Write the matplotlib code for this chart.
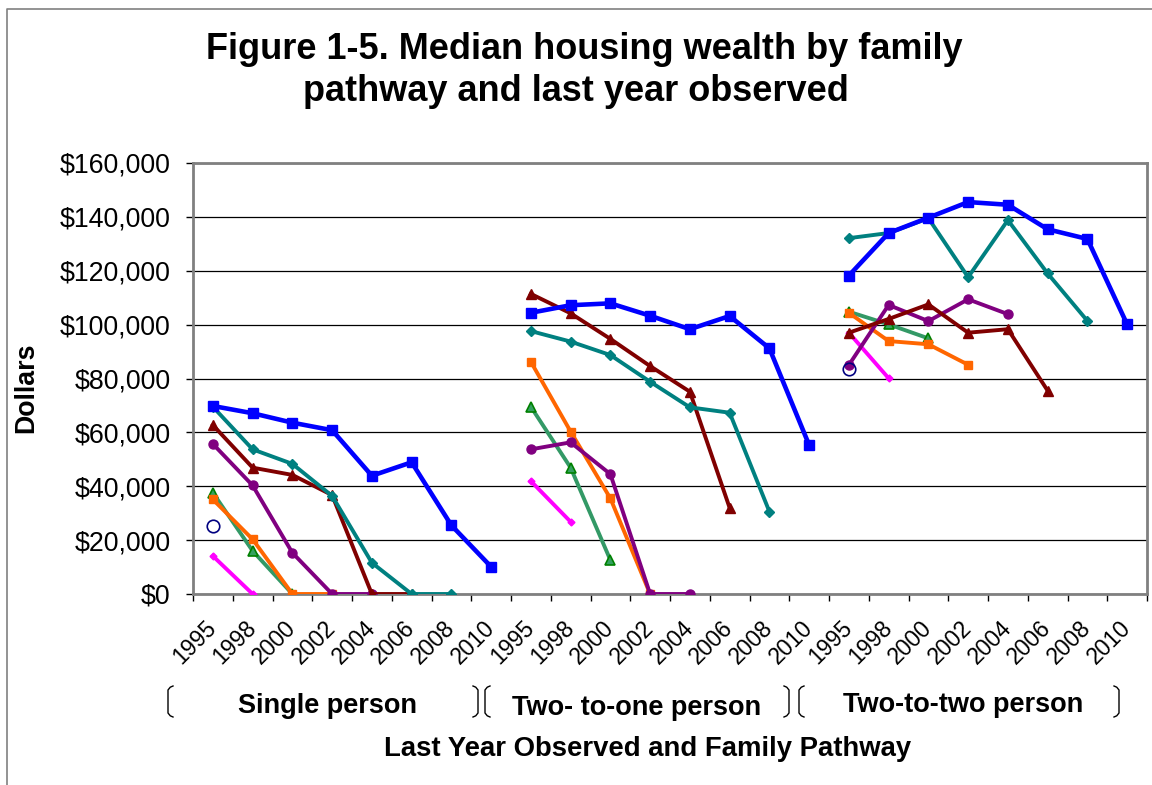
import numpy as np
import matplotlib
matplotlib.use("Agg")
import matplotlib.pyplot as plt
from matplotlib.lines import Line2D

plt.rcParams['font.family'] = ['Liberation Sans', 'DejaVu Sans']

# ---------------- data ----------------
years = ["1995", "1998", "2000", "2002", "2004", "2006", "2008", "2010"]
groups = ["Single person", "Two- to-one person", "Two-to-two person"]
N = None

# values in dollars, 24 categories (3 groups x 8 years)
blue_sq = [69800, 67100, 63600, 60800, 43900, 48900, 25500, 10100,
           104400, 107200, 107900, 103300, 98300, 103200, 91200, 55300,
           118200, 134000, 139700, 145500, 144500, 135400, 131800, 100100]
teal_dm = [69500, 53700, 48300, 36400, 11600, 0, 0, N,
           97600, 93700, 88700, 78800, 69300, 67300, 30600, N,
           132100, 134000, 139500, 117600, 138800, 119000, 101400, N]
darkred_tri = [62700, 46900, 44200, 36700, 0, 0, N, N,
               111400, 104200, 94700, 84600, 75100, 32000, N, N,
               97000, 102100, 107500, 97000, 98300, 75500, N, N]
purple_circ = [55700, 40300, 15300, 0, 0, N, N, N,
               53700, 56300, 44500, 0, 0, N, N, N,
               85000, 107300, 101300, 109400, 103900, N, N, N]
orange_sq = [35100, 20300, 0, 0, N, N, N, N,
             86200, 60300, 35500, 0, N, N, N, N,
             104400, 93900, 92700, 85100, N, N, N, N]
green_tri = [37600, 16000, 0, N, N, N, N, N,
             69500, 46900, 12600, N, N, N, N, N,
             104800, 100100, 94900, N, N, N, N, N]
magenta_dm = [14100, 0, N, N, N, N, N, N,
              41900, 26800, N, N, N, N, N, N,
              97000, 80100, N, N, N, N, N, N]
navy_open = [25200, N, N, N, N, N, N, N,
             N, N, N, N, N, N, N, N,
             83500, N, N, N, N, N, N, N]

yticks = [0, 20000, 40000, 60000, 80000, 100000, 120000, 140000, 160000]
ytick_labels = ["$0", "$20,000", "$40,000", "$60,000", "$80,000",
                "$100,000", "$120,000", "$140,000", "$160,000"]

# ---------------- figure ----------------
W, H = 1152, 785
fig = plt.figure(figsize=(W / 100, H / 100), dpi=100)

def fx(x):
    return x / W

def fy(y):
    return 1 - y / H

ax = fig.add_axes([fx(193), fy(594), fx(1147) - fx(193), fy(163) - fy(594)])

ncat = len(years) * len(groups)
xc = np.arange(ncat) + 0.5
xlabels = years * len(groups)

def arr(v):
    return np.array([np.nan if a is None else a for a in v], dtype=float)

def plot_series(vals, **kw):
    y = arr(vals)
    # draw each group separately so lines do not connect across groups
    for g in range(len(groups)):
        sl = slice(g * len(years), (g + 1) * len(years))
        ax.plot(xc[sl], y[sl], **kw)

plot_series(magenta_dm, color='#FF00FF', lw=2.8, marker='D', ms=3.5,
            mec='#FF00FF', mfc='#FF00FF', zorder=3)
plot_series(green_tri, color='#339966', lw=2.8, marker='^', ms=7.5,
            mec='#008000', mfc='#33A060', mew=1.2, zorder=3.1)
plot_series(orange_sq, color='#FF6600', lw=2.8, marker='s', ms=5.5,
            mec='#FF6600', mfc='#FF6600', zorder=3.2)
plot_series(purple_circ, color='#800080', lw=2.8, marker='o', ms=6.5,
            mec='#800080', mfc='#800080', zorder=3.3)
plot_series(darkred_tri, color='#800000', lw=2.8, marker='^', ms=7.5,
            mec='#800000', mfc='#800000', zorder=3.4)
plot_series(teal_dm, color='#008080', lw=2.8, marker='D', ms=5.5,
            mec='#008080', mfc='#008080', zorder=3.5)
plot_series(blue_sq, color='#0000FF', lw=3.3, marker='s', ms=7,
            mec='#0000FF', mfc='#0000FF', zorder=3.6)
plot_series(navy_open, color='#000080', lw=0, marker='o', ms=9,
            mec='#000080', mfc='none', mew=1.2, zorder=3.7)

ax.set_xlim(0, ncat)
ax.set_ylim(0, 160000)

ax.set_yticks(yticks)
ax.set_yticklabels(ytick_labels, fontsize=19.3)
ax.yaxis.grid(True, color='black', lw=0.9)
ax.set_axisbelow(True)
ax.tick_params(axis='y', direction='out', length=5, width=1, color='black',
               pad=11)

ax.set_xticks(xc)
ax.set_xticklabels(xlabels, fontsize=16.5, rotation=45, ha='right',
                   va='center', rotation_mode='anchor')
ax.tick_params(axis='x', which='major', length=0, pad=22)
ax.set_xticks(np.arange(ncat + 1), minor=True)
ax.tick_params(axis='x', which='minor', direction='out', length=5, width=1,
               color='black')

for s in ax.spines.values():
    s.set_color('#808080')
    s.set_linewidth(2)

# y-axis title
fig.text(fx(26), fy(388), "Dollars", fontsize=19.3, fontweight='bold',
         rotation=90, ha='center', va='center')

# title
fig.text(fx(584), fy(59), "Figure 1-5. Median housing wealth by family",
         fontsize=26, fontweight='bold', ha='center', va='baseline')
fig.text(fx(576), fy(101), "pathway and last year observed",
         fontsize=26, fontweight='bold', ha='center', va='baseline')

# group labels
gx = [328, 637, 963]
gy = [706, 708, 705]
for name, x, y in zip(groups, gx, gy):
    fig.text(fx(x), fy(y), name, fontsize=19.5, fontweight='bold',
             ha='center', va='center')

fig.text(fx(648), fy(749), "Last Year Observed and Family Pathway",
         fontsize=19.8, fontweight='bold', ha='center', va='center')

# brackets
def bracket(x, left=True, top=686, bot=717):
    d = 5 if left else -5
    xs = [x + d, x + d * 0.45, x, x, x + d * 0.45, x + d]
    ys = [top, top + 1.2, top + 4, bot - 4, bot - 1.2, bot]
    fig.add_artist(Line2D([fx(v) for v in xs], [fy(v) for v in ys],
                          transform=fig.transFigure, color='black', lw=1.0))

bracket(168, True)
bracket(478, False)
bracket(485, True)
bracket(789, False)
bracket(799, True)
bracket(1119, False)

# chart frame
fig.add_artist(Line2D([fx(7), fx(7), fx(1152)], [0, fy(8.5), fy(8.5)],
                      transform=fig.transFigure, color='#808080', lw=1.2))

fig.savefig("out.png", dpi=100)
